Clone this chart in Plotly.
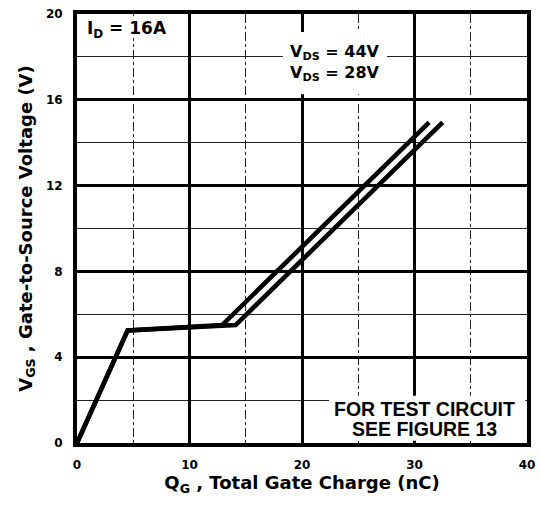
import plotly.graph_objects as go

# Data
q_28 = [0, 4.5, 12.9, 31.3]
v_28 = [0, 5.25, 5.5, 14.95]
q_44 = [0, 4.5, 14.1, 32.5]
v_44 = [0, 5.25, 5.5, 14.95]

x_ticks = [0, 10, 20, 30, 40]
y_ticks = [0, 4, 8, 12, 16, 20]

WIDE = "DejaVu Sans, Verdana, sans-serif"
ARIAL = "Liberation Sans, Arial, Helvetica, sans-serif"

fig = go.Figure()
fig.add_trace(go.Scatter(x=q_28, y=v_28, mode="lines",
                         line=dict(color="black", width=4.6), showlegend=False,
                         name="VDS = 28V"))
fig.add_trace(go.Scatter(x=q_44, y=v_44, mode="lines",
                         line=dict(color="black", width=4.6), showlegend=False,
                         name="VDS = 44V"))

fig.update_layout(
    width=540, height=508,
    margin=dict(l=77, r=13, t=14, b=65),
    paper_bgcolor="white", plot_bgcolor="white",
    font=dict(family=WIDE, color="black"),
)

fig.update_xaxes(
    range=[0, 40], tickvals=x_ticks, ticktext=[str(v) for v in x_ticks],
    automargin=False,
    showgrid=True, gridcolor="black", gridwidth=2.5,
    minor=dict(dtick=5, showgrid=True, gridcolor="#222", gridwidth=1, griddash="dashdot"),
    showline=True, linecolor="black", linewidth=4, mirror=True,
    zeroline=False, ticks="", ticklabelstandoff=8,
    tickfont=dict(family=WIDE, size=12, color="black", weight="bold"),
    title=dict(text="Q<sub>G</sub> , Total Gate Charge (nC)",
               font=dict(family=WIDE, size=18, color="black", weight="bold"), standoff=4),
)
fig.update_yaxes(
    range=[0, 20], tickvals=y_ticks, ticktext=[str(v) for v in y_ticks],
    automargin=False,
    showgrid=True, gridcolor="black", gridwidth=2.5,
    minor=dict(dtick=2, showgrid=True, gridcolor="#222", gridwidth=1),
    showline=True, linecolor="black", linewidth=4, mirror=True,
    zeroline=False, ticks="", ticklabelstandoff=8,
    tickfont=dict(family=WIDE, size=12, color="black", weight="bold"),
    title=dict(text="V<sub>GS</sub> , Gate-to-Source Voltage (V)",
               font=dict(family=WIDE, size=18, color="black", weight="bold"), standoff=10),
)

# white masks behind the text blocks (hide grid lines as in the reference)
for x0, x1, y0, y1 in [(0.18, 8.1, 18.88, 19.9), (18.3, 27.55, 16.26, 19.16), (22.4, 39.85, 0.1, 2.2)]:
    fig.add_shape(type="rect", xref="x", yref="y", x0=x0, x1=x1, y0=y0, y1=y1,
                  fillcolor="white", line=dict(width=0), layer="above")

fig.add_annotation(x=0.71, y=19.3, xref="x", yref="y", xanchor="left", yanchor="middle",
                   text="I<sub>D</sub> = 16A", showarrow=False,
                   font=dict(family=WIDE, size=17, color="black", weight="bold"))
fig.add_annotation(x=22.93, y=17.72, xref="x", yref="y", xanchor="center", yanchor="middle",
                   text="V<sub>DS</sub> = 44V<br>V<sub>DS</sub> = 28V", showarrow=False,
                   align="center",
                   font=dict(family=WIDE, size=16, color="black", weight="bold"))
fig.add_annotation(x=30.93, y=1.59, xref="x", yref="y", xanchor="center", yanchor="middle",
                   text="FOR TEST CIRCUIT", showarrow=False,
                   font=dict(family=ARIAL, size=19.5, color="black", weight="bold"))
fig.add_annotation(x=30.93, y=0.63, xref="x", yref="y", xanchor="center", yanchor="middle",
                   text="SEE FIGURE 13", showarrow=False,
                   font=dict(family=ARIAL, size=19.5, color="black", weight="bold"))

fig.write_html("out.html", config={"displayModeBar": False},
               post_script="document.body.style.margin='0px';")
